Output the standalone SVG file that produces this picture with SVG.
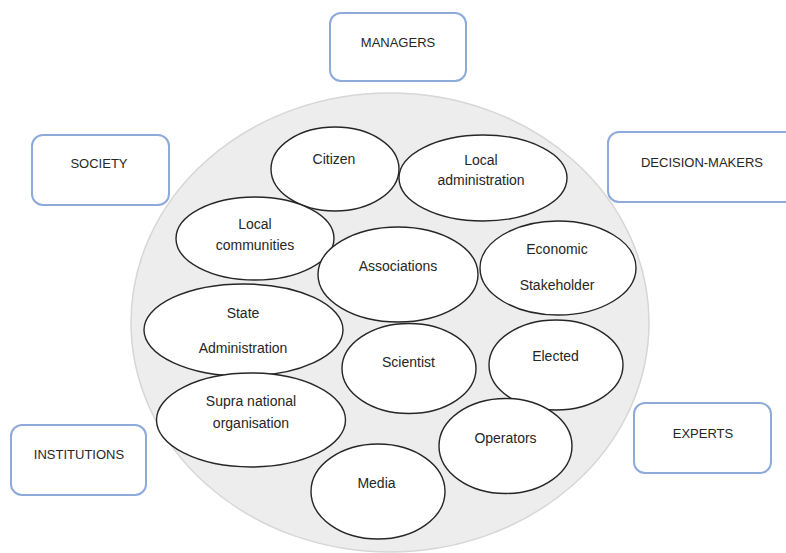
<svg xmlns="http://www.w3.org/2000/svg" width="786" height="553" viewBox="0 0 786 553">
  <style>
    .box { fill: #ffffff; stroke: #8eaadb; stroke-width: 2; }
    .boxtxt { font-family: "Liberation Sans", Arial, sans-serif; font-size: 13px; fill: #262626; text-anchor: middle; }
    .bubble { fill: #ffffff; stroke: #262626; stroke-width: 1.4; }
    .txt { font-family: "Liberation Sans", Arial, sans-serif; font-size: 14px; fill: #262626; text-anchor: middle; }
  </style>
  <rect width="786" height="553" fill="#ffffff"/>
  <g id="background-circle">
    <ellipse cx="390" cy="322.5" rx="259" ry="229.5" fill="#ededed" stroke="#d6d6d6" stroke-width="1.5"/>
  </g>
  <g id="connectors"/>
  <g id="managers">
    <rect class="box" x="330" y="13" width="136" height="68" rx="11"/>
    <text class="boxtxt" x="398" y="46.5">MANAGERS</text>
  </g>
  <g id="society">
    <rect class="box" x="32" y="135" width="137" height="70" rx="11"/>
    <text class="boxtxt" x="99" y="167.5">SOCIETY</text>
  </g>
  <g id="decision-makers">
    <rect class="box" x="608" y="132" width="190" height="70" rx="11"/>
    <text class="boxtxt" x="702" y="166.5">DECISION-MAKERS</text>
  </g>
  <g id="institutions">
    <rect class="box" x="11" y="425" width="135" height="70" rx="11"/>
    <text class="boxtxt" x="79" y="458.5">INSTITUTIONS</text>
  </g>
  <g id="experts">
    <rect class="box" x="634" y="403" width="137" height="70" rx="11"/>
    <text class="boxtxt" x="703" y="437.5">EXPERTS</text>
  </g>
  <g id="citizen">
    <ellipse class="bubble" cx="335" cy="169" rx="64" ry="42"/>
    <text class="txt" x="334" y="164">Citizen</text>
  </g>
  <g id="local-administration">
    <ellipse class="bubble" cx="483" cy="178" rx="84" ry="43"/>
    <text class="txt" x="481" y="165">Local</text>
    <text class="txt" x="481" y="185">administration</text>
  </g>
  <g id="local-communities">
    <ellipse class="bubble" cx="255" cy="238.5" rx="79" ry="41.5"/>
    <text class="txt" x="255" y="229">Local</text>
    <text class="txt" x="255" y="250">communities</text>
  </g>
  <g id="associations">
    <ellipse class="bubble" cx="398" cy="274.5" rx="80" ry="47.5"/>
    <text class="txt" x="398" y="271">Associations</text>
  </g>
  <g id="economic-stakeholder">
    <ellipse class="bubble" cx="558" cy="268" rx="78" ry="47"/>
    <text class="txt" x="557" y="254">Economic</text>
    <text class="txt" x="557" y="290">Stakeholder</text>
  </g>
  <g id="state-administration">
    <ellipse class="bubble" cx="243.5" cy="330" rx="99.5" ry="46"/>
    <text class="txt" x="243" y="318">State</text>
    <text class="txt" x="243" y="353">Administration</text>
  </g>
  <g id="scientist">
    <ellipse class="bubble" cx="409" cy="368.5" rx="67" ry="45"/>
    <text class="txt" x="408.5" y="367">Scientist</text>
  </g>
  <g id="elected">
    <ellipse class="bubble" cx="556" cy="365" rx="67" ry="45"/>
    <text class="txt" x="555.5" y="361">Elected</text>
  </g>
  <g id="supra-national-organisation">
    <ellipse class="bubble" cx="251" cy="420" rx="94.5" ry="47"/>
    <text class="txt" x="251" y="406">Supra national</text>
    <text class="txt" x="251" y="428">organisation</text>
  </g>
  <g id="operators">
    <ellipse class="bubble" cx="505.5" cy="446" rx="66.5" ry="47.5"/>
    <text class="txt" x="505.5" y="443">Operators</text>
  </g>
  <g id="media">
    <ellipse class="bubble" cx="378" cy="491.5" rx="67" ry="47.5"/>
    <text class="txt" x="376.5" y="488">Media</text>
  </g>
</svg>
